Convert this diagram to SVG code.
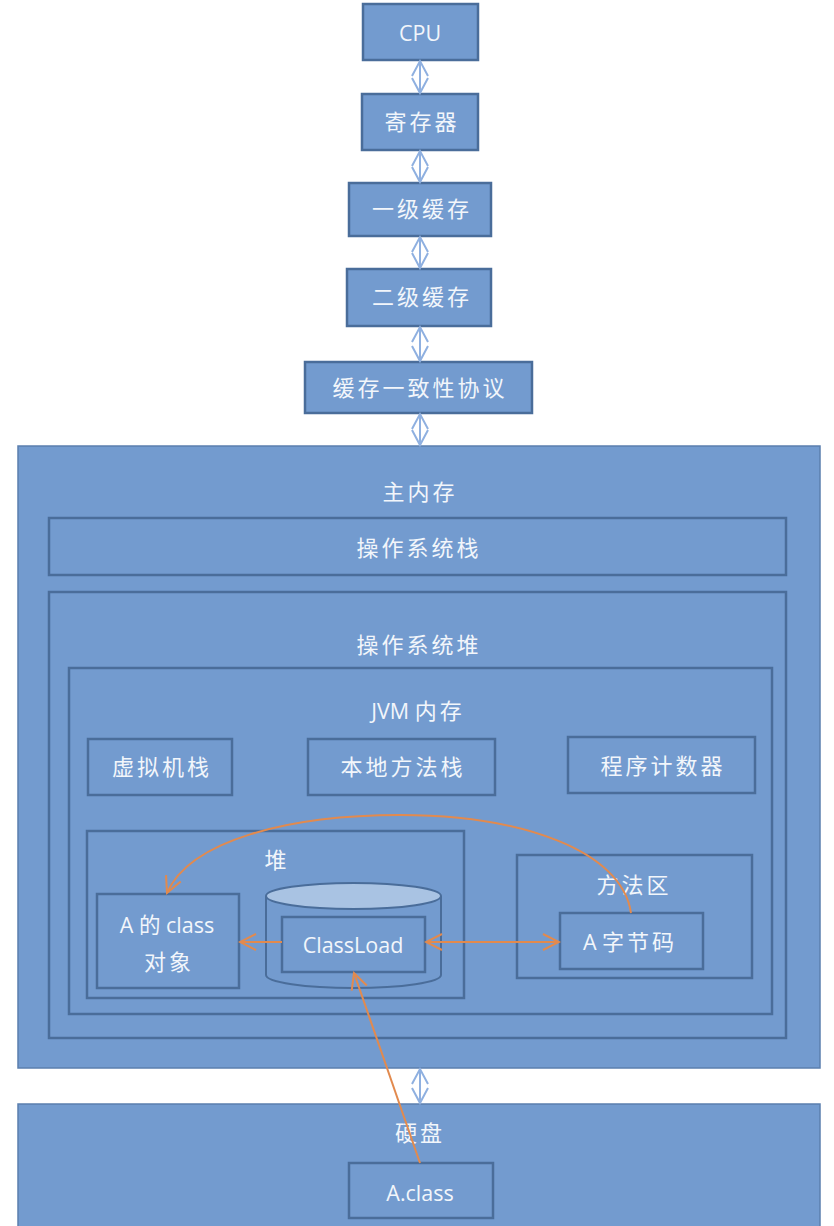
<svg xmlns="http://www.w3.org/2000/svg" width="834" height="1226" viewBox="0 0 834 1226">
<defs>
<style>
.box{fill:#739bcf;stroke:#4a6d9a;stroke-width:2.5}
.big{fill:#739bcf;stroke:#5b7fae;stroke-width:1.5}
.in{fill:none;stroke:#4a6d9a;stroke-width:2.5}
.t{fill:#f2f6fb;font-family:"Noto Sans CJK SC","Liberation Sans",sans-serif;font-size:22px;letter-spacing:3px;text-anchor:middle}
.l{fill:#f2f6fb;font-family:"Open Sans","Liberation Sans","Noto Sans CJK SC",sans-serif;font-size:21.5px;text-anchor:middle}
.bi{stroke:#8fb0e0;stroke-width:2;fill:none}
.or{stroke:#e28a4e;stroke-width:2;fill:none}
</style>
<marker id="oh" viewBox="0 0 20 20" refX="18" refY="10" markerWidth="20" markerHeight="20" markerUnits="userSpaceOnUse" orient="auto-start-reverse">
<path d="M2,2 L18,10 L2,18" fill="none" stroke="#e28a4e" stroke-width="2"/>
</marker>
</defs>
<rect width="834" height="1226" fill="#ffffff"/>

<g id="cpu"><rect class="box" x="363" y="4" width="115" height="56"/><text class="l" x="420" y="41">CPU</text></g>
<g id="register"><rect class="box" x="362" y="94" width="116" height="56"/><text class="t" x="422" y="130">寄存器</text></g>
<g id="l1"><rect class="box" x="349" y="183" width="142" height="53"/><text class="t" x="422" y="217">一级缓存</text></g>
<g id="l2"><rect class="box" x="347" y="269" width="144" height="57"/><text class="t" x="422" y="305">二级缓存</text></g>
<g id="mesi"><rect class="box" x="305" y="362" width="227" height="51"/><text class="t" x="420" y="396">缓存一致性协议</text></g>

<g id="main-memory">
<rect class="big" x="18" y="446" width="802" height="622"/>
<text class="t" x="420" y="500">主内存</text>
</g>
<g id="os-stack"><rect class="in" x="49" y="518" width="737" height="57"/><text class="t" x="419" y="556">操作系统栈</text></g>
<g id="os-heap"><rect class="in" x="49" y="592" width="737" height="446"/><text class="t" x="419" y="653">操作系统堆</text></g>
<g id="jvm"><rect class="in" x="69" y="668" width="703" height="346"/><text class="l" x="418" y="719">JVM <tspan font-family="Noto Sans CJK SC" font-size="22" letter-spacing="3">内存</tspan></text></g>
<g id="vm-stack"><rect class="in" x="88" y="739" width="144" height="56"/><text class="t" x="162" y="775">虚拟机栈</text></g>
<g id="native-stack"><rect class="in" x="308" y="739" width="187" height="56"/><text class="t" x="403" y="775">本地方法栈</text></g>
<g id="pc"><rect class="in" x="568" y="737" width="187" height="56"/><text class="t" x="663" y="774">程序计数器</text></g>
<g id="heap"><rect class="in" x="87" y="831" width="377" height="167"/><text class="t" x="277" y="868">堆</text></g>
<g id="class-object"><rect class="in" x="97" y="894" width="142" height="94"/>
<text class="l" x="167" y="933">A <tspan font-family="Noto Sans CJK SC">的</tspan> class</text>
<text class="t" x="169" y="970">对象</text></g>
<g id="cylinder">
<path d="M266,896 L266,975 A87.5,13 0 0 0 441,975 L441,896" fill="#739bcf" stroke="#4a6d9a" stroke-width="2"/>
<ellipse cx="353.5" cy="896" rx="87.5" ry="13" fill="#a9c3e3" stroke="#4a6d9a" stroke-width="2"/>
</g>
<g id="classload"><rect class="in" x="282" y="917" width="143" height="55"/><text class="l" x="353" y="953">ClassLoad</text></g>
<g id="method-area"><rect class="in" x="517" y="855" width="235" height="123"/><text class="t" x="634" y="893">方法区</text></g>
<g id="bytecode"><rect class="in" x="560" y="913" width="143" height="56"/>
<text class="l" x="630" y="950">A <tspan font-family="Noto Sans CJK SC" font-size="22" letter-spacing="3">字节码</tspan></text></g>

<g id="disk"><rect class="big" x="18" y="1104" width="802" height="130"/><text class="t" x="420" y="1141">硬盘</text></g>
<g id="aclass"><rect class="in" x="349" y="1163" width="144" height="55"/><text class="l" x="420" y="1201">A.class</text></g>

<g id="connectors">
<g class="bi">
<path d="M420,61 V93 M412,76 L420,61 L428,76 M412,78 L420,93 L428,78"/>
<path d="M420,151 V182 M412,166 L420,151 L428,166 M412,167 L420,182 L428,167"/>
<path d="M420,237 V268 M412,252 L420,237 L428,252 M412,253 L420,268 L428,253"/>
<path d="M420,327 V361 M412,342 L420,327 L428,342 M412,346 L420,361 L428,346"/>
<path d="M420,414 V445 M412,429 L420,414 L428,429 M412,430 L420,445 L428,430"/>
<path d="M420,1069 V1103 M412,1084 L420,1069 L428,1084 M412,1088 L420,1103 L428,1088"/>
</g>
<path class="or" d="M282,942 L240,942" marker-end="url(#oh)"/>
<path class="or" d="M426,942 L559,942" marker-start="url(#oh)" marker-end="url(#oh)"/>
<path class="or" d="M420,1163 L354,973" marker-end="url(#oh)"/>
<path class="or" d="M631,913 C622,850 520,815 400,815 C290,815 190,840 167,893" marker-end="url(#oh)"/>
</g>
</svg>
